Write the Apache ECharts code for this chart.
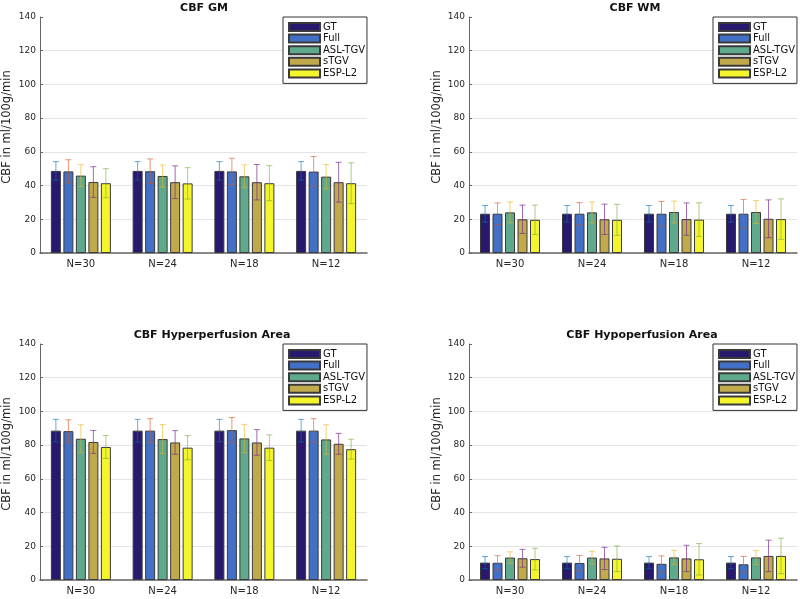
<!DOCTYPE html>
<html>
<head>
<meta charset="utf-8">
<script src="https://cdn.jsdelivr.net/npm/echarts@6/dist/echarts.min.js"></script>
<style>
  html, body { margin: 0; padding: 0; background: #fff; }
  #chart { width: 800px; height: 599px; }
</style>
</head>
<body>
<div id="chart"></div>
<script>
const categories = ['N=30', 'N=24', 'N=18', 'N=12']
const methods = ['GT', 'Full', 'ASL-TGV', 'sTGV', 'ESP-L2']
const panelTitles = ['CBF GM', 'CBF WM', 'CBF Hyperperfusion Area', 'CBF Hypoperfusion Area']

// mean values, one row per method (GT, Full, ASL-TGV, sTGV, ESP-L2)
const gmMean = [
  [48.7, 48.7, 48.7, 48.7],
  [48.4, 48.5, 48.4, 48.3],
  [45.9, 45.7, 45.5, 45.3],
  [42.1, 42.0, 42.0, 42.0],
  [41.4, 41.3, 41.4, 41.4],
]
const gmSd = [
  [5.5, 5.5, 5.5, 5.5],
  [6.9, 7.3, 7.8, 8.9],
  [6.5, 6.5, 6.8, 7.2],
  [9.1, 9.7, 10.5, 11.8],
  [8.6, 9.3, 10.4, 12.1],
]
const wmMean = [
  [23.3, 23.3, 23.3, 23.3],
  [23.3, 23.3, 23.3, 23.3],
  [24.1, 24.1, 24.3, 24.3],
  [20.0, 20.0, 20.1, 20.3],
  [19.7, 19.7, 19.8, 20.1],
]
const wmSd = [
  [4.9, 4.9, 4.9, 4.9],
  [6.4, 6.6, 7.3, 8.4],
  [6.2, 6.2, 6.5, 6.8],
  [8.4, 9.0, 9.6, 11.2],
  [8.7, 9.2, 10.0, 12.0],
]
const hyperMean = [
  [88.6, 88.6, 88.6, 88.6],
  [88.3, 88.6, 88.9, 88.6],
  [83.8, 83.6, 84.0, 83.4],
  [81.9, 81.6, 81.6, 80.8],
  [78.9, 78.5, 78.5, 77.6],
]
const hyperSd = [
  [6.7, 6.7, 6.7, 6.7],
  [6.7, 7.1, 7.5, 7.1],
  [8.3, 8.6, 8.3, 8.7],
  [6.8, 7.0, 7.6, 6.2],
  [6.8, 7.2, 7.6, 5.9],
]
const hypoMean = [
  [10.3, 10.3, 10.3, 10.3],
  [10.2, 10.1, 9.6, 9.3],
  [13.3, 13.3, 13.4, 13.4],
  [12.9, 12.8, 12.8, 14.3],
  [12.4, 12.6, 12.3, 14.3],
]
const hypoSd = [
  [3.6, 3.6, 3.6, 3.6],
  [4.2, 4.4, 4.7, 4.7],
  [3.4, 3.7, 4.2, 4.2],
  [5.3, 6.6, 7.8, 9.3],
  [6.4, 7.6, 9.3, 10.5],
]

const panelMeans = [gmMean, wmMean, hyperMean, hypoMean]
const panelSds = [gmSd, wmSd, hyperSd, hypoSd]

const barColors = ['#28196e', '#4270c6', '#5faa8c', '#c0aa4b', '#f5f52d']
const errColors = ['rgba(0,114,189,0.6)', 'rgba(217,83,25,0.6)', 'rgba(237,177,32,0.6)',
  'rgba(126,47,142,0.7)', 'rgba(119,172,48,0.6)']

const BAR_W = 10
const BAR_GAP = 0.25
const PITCH = BAR_W * (1 + BAR_GAP)

// plot rectangles [left, top, width, height]
const grids = [
  [40, 17, 327, 236],
  [469, 17, 328, 236],
  [40, 344, 327, 236],
  [469, 344, 328, 236],
]
const titlePos = [[204, 3], [635, 3], [212, 330], [642, 330]]

const font = 'DejaVu Sans'

const errRenderer = (offset, color) => (params, api) => {
  const c = api.value(0)
  const m = api.value(1)
  const s = api.value(2)
  const top = api.coord([c, m + s])
  const bot = api.coord([c, m - s])
  const x = top[0] + offset
  const style = { stroke: color, lineWidth: 1, fill: null }
  return {
    type: 'group',
    children: [
      { type: 'line', shape: { x1: x, y1: top[1], x2: x, y2: bot[1] }, style },
      { type: 'line', shape: { x1: x - 3, y1: top[1], x2: x + 3, y2: top[1] }, style },
      { type: 'line', shape: { x1: x - 3, y1: bot[1], x2: x + 3, y2: bot[1] }, style },
    ],
  }
}

const option = {
  backgroundColor: '#fff',
  animation: false,
  textStyle: { fontFamily: font },
  title: panelTitles.map((t, i) => ({
    text: t,
    left: titlePos[i][0],
    top: titlePos[i][1],
    textAlign: 'center',
    padding: 0,
    textStyle: { fontFamily: font, fontSize: 11, fontWeight: 'bold', color: '#111' },
  })),
  legend: grids.map(g => ({
    data: methods,
    orient: 'vertical',
    left: g[0] + g[2] - 84,
    top: g[1],
    width: 84,
    backgroundColor: '#fff',
    borderColor: '#333',
    borderWidth: 1,
    borderRadius: 0,
    padding: [5, 2, 5, 5],
    icon: 'rect',
    itemWidth: 31,
    itemHeight: 8,
    itemGap: 1.6,
    selectedMode: false,
    textStyle: { fontFamily: font, fontSize: 10, lineHeight: 10, color: '#111', padding: [0, 0, 0, -2] },
  })),
  grid: grids.map(g => ({ left: g[0], top: g[1], width: g[2], height: g[3], containLabel: false })),
  xAxis: grids.map((g, i) => ({
    type: 'category',
    gridIndex: i,
    data: categories,
    axisLine: { lineStyle: { color: '#666', width: 1.5 } },
    axisTick: { show: false },
    axisLabel: { fontFamily: font, fontSize: 10, color: '#262626', margin: 6 },
  })),
  yAxis: grids.map((g, i) => ({
    type: 'value',
    gridIndex: i,
    min: 0,
    max: 140,
    interval: 20,
    name: 'CBF in ml/100g/min',
    nameLocation: 'middle',
    nameRotate: 90,
    nameGap: i % 2 === 0 ? 27 : 26,
    nameTextStyle: { fontFamily: font, fontSize: 11.5, color: '#262626', padding: [0, 0, 0, 16] },
    axisLine: { show: true, lineStyle: { color: '#666' } },
    axisTick: { show: true, inside: true, length: 3, lineStyle: { color: '#666' } },
    axisLabel: { fontFamily: font, fontSize: 9, color: '#262626', margin: 4 },
    splitLine: { show: true, showMaxLine: false, lineStyle: { color: '#e4e4e4', width: 1 } },
  })),
  series: [],
}

panelMeans.forEach((means, p) => {
  methods.forEach((name, k) => {
    option.series.push({
      name,
      type: 'bar',
      xAxisIndex: p,
      yAxisIndex: p,
      barWidth: BAR_W,
      barGap: BAR_GAP * 100 + '%',
      data: means[k],
      itemStyle: { color: barColors[k], borderColor: '#3a3a3a', borderWidth: 1 },
      z: 2,
    })
  })
  methods.forEach((name, k) => {
    option.series.push({
      name: 'err-' + name,
      type: 'custom',
      xAxisIndex: p,
      yAxisIndex: p,
      renderItem: errRenderer((k - 2) * PITCH, errColors[k]),
      data: means[k].map((m, c) => [c, m, panelSds[p][k][c]]),
      z: 3,
      silent: true,
    })
  })
})

const chart = echarts.init(document.getElementById('chart'))
chart.setOption(option)
</script>
</body>
</html>
